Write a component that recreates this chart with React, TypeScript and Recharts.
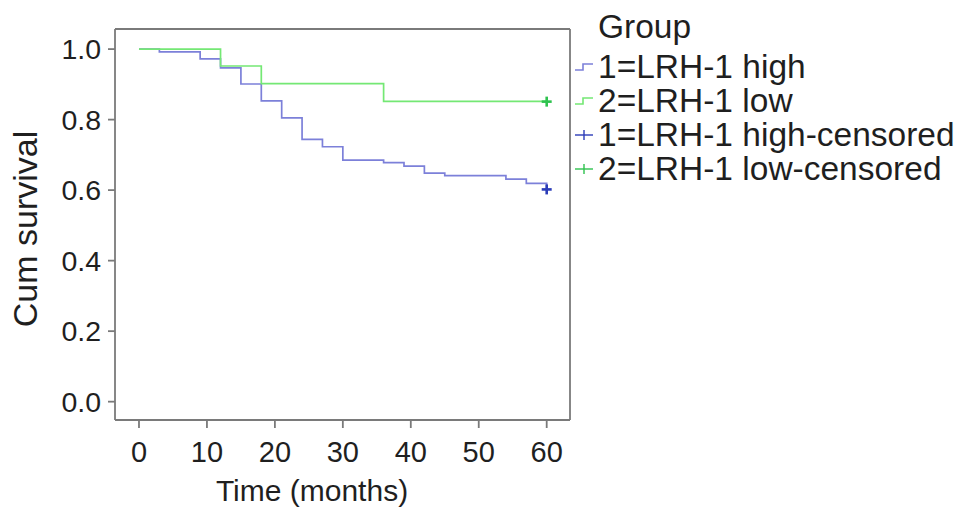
import React from 'react';
import {
  ComposedChart,
  Line,
  Scatter,
  XAxis,
  YAxis,
  Label,
  Legend,
} from 'recharts';

// Kaplan-Meier steps (time in months, cumulative survival)
const highTimes = [0, 3, 9, 12, 15, 18, 21, 24, 27, 30, 36, 39, 42, 45, 54, 57, 60];
const highSurv = [1.0, 0.992, 0.972, 0.947, 0.901, 0.853, 0.805, 0.744, 0.723, 0.685, 0.678, 0.668, 0.648, 0.641, 0.631, 0.619, 0.602];

const lowTimes = [0, 12, 18, 36, 60];
const lowSurv = [1.0, 0.952, 0.902, 0.852, 0.852];

const highCensoredTimes = [60];
const highCensoredSurv = [0.602];
const lowCensoredTimes = [60];
const lowCensoredSurv = [0.851];

const xTicks = [0, 10, 20, 30, 40, 50, 60];
const yTicks = [0, 0.2, 0.4, 0.6, 0.8, 1.0];

const LEGEND_TITLE = 'Group';
const LEGEND_ORDER = [
  '1=LRH-1 high',
  '2=LRH-1 low',
  '1=LRH-1 high-censored',
  '2=LRH-1 low-censored',
];

const COLORS = {
  high: '#7c80d9',
  low: '#74e874',
  highCens: '#2b3cb8',
  lowCens: '#2ec24e',
};

const FONT = '"Liberation Sans", Arial, Helvetica, sans-serif';
const TEXT = '#1f1f1f';
const FRAME = '#7a7a7a';

const toRows = (ts: number[], ss: number[]) => ts.map((t, i) => ({ t, s: ss[i] }));

const highRows = toRows(highTimes, highSurv);
const lowRows = toRows(lowTimes, lowSurv);
const highCensRows = toRows(highCensoredTimes, highCensoredSurv);
const lowCensRows = toRows(lowCensoredTimes, lowCensoredSurv);

function PlusMark(props: any) {
  const { cx, cy, fill } = props;
  if (cx == null || cy == null) return null;
  return (
    <g stroke={fill} strokeWidth={2.6}>
      <line x1={cx - 5} x2={cx + 5} y1={cy} y2={cy} />
      <line x1={cx} x2={cx} y1={cy - 5} y2={cy + 5} />
    </g>
  );
}

function LegendIcon({ censored, color }: { censored: boolean; color: string }) {
  return (
    <svg width={24} height={14} style={{ display: 'block' }}>
      {censored ? (
        <g stroke={color} strokeWidth={1.4}>
          <line x1={3} x2={21} y1={7} y2={7} />
          <line x1={12} x2={12} y1={2} y2={12} />
        </g>
      ) : (
        <path d="M3,10 H11 V4 H21" fill="none" stroke={color} strokeWidth={1.6} />
      )}
    </svg>
  );
}

function renderLegend(props: any) {
  const payload: any[] = props.payload ?? [];
  const items = LEGEND_ORDER.map((name) => payload.find((p) => p.value === name)).filter(Boolean);
  return (
    <div style={{ fontFamily: FONT, color: TEXT, fontSize: 33.5, lineHeight: '34px' }}>
      <div style={{ paddingLeft: 26, marginTop: 10, marginBottom: 6 }}>{LEGEND_TITLE}</div>
      {items.map((p: any) => (
        <div key={p.value} style={{ display: 'flex', alignItems: 'center' }}>
          <LegendIcon censored={p.value.endsWith('censored')} color={p.color} />
          <span style={{ marginLeft: 2 }}>{p.value}</span>
        </div>
      ))}
    </div>
  );
}

export default function App() {
  return (
    <div style={{ position: 'absolute', left: 0, top: 0, width: 969, height: 525, background: '#fff' }}>
      <ComposedChart
        width={969}
        height={525}
        margin={{ top: 28, right: 398, bottom: 0, left: 0 }}
      >
        <XAxis
          dataKey="t"
          type="number"
          domain={[-3.53, 63.43]}
          allowDataOverflow
          ticks={xTicks}
          height={105}
          stroke={FRAME}
          strokeWidth={1.8}
          tickSize={8}
          tickMargin={13}
          tick={{ fill: TEXT, fontSize: 29, fontFamily: FONT }}
        >
          <Label
            content={() => (
              <text x={312} y={501} textAnchor="middle" fill={TEXT} fontSize={30} fontFamily={FONT}>
                Time (months)
              </text>
            )}
          />
        </XAxis>
        <XAxis
          xAxisId="top"
          orientation="top"
          type="number"
          dataKey="t"
          domain={[-3.53, 63.43]}
          allowDataOverflow
          height={1}
          tick={false}
          tickLine={false}
          stroke={FRAME}
          strokeWidth={1.8}
        />
        <YAxis
          type="number"
          domain={[-0.052, 1.057]}
          allowDataOverflow
          ticks={yTicks}
          width={115}
          stroke={FRAME}
          strokeWidth={1.8}
          tickSize={7}
          tickMargin={7}
          tickFormatter={(v: number) => v.toFixed(1)}
          tick={{ fill: TEXT, fontSize: 28.5, fontFamily: FONT }}
        >
          <Label
            content={() => (
              <text
                x={37}
                y={229}
                transform="rotate(-90 37 229)"
                textAnchor="middle"
                fill={TEXT}
                fontSize={34}
                fontFamily={FONT}
              >
                Cum survival
              </text>
            )}
          />
        </YAxis>
        <YAxis
          yAxisId="right"
          orientation="right"
          type="number"
          domain={[0, 1]}
          width={1}
          tick={false}
          tickLine={false}
          stroke={FRAME}
          strokeWidth={1.8}
        />
        <Legend
          layout="horizontal"
          align="center"
          verticalAlign="middle"
          wrapperStyle={{ left: 572, top: 0, width: 397 }}
          content={renderLegend}
        />
        <Line
          name="1=LRH-1 high"
          data={highRows}
          dataKey="s"
          type="stepAfter"
          stroke={COLORS.high}
          strokeWidth={1.7}
          dot={false}
          activeDot={false}
          isAnimationActive={false}
        />
        <Line
          name="2=LRH-1 low"
          data={lowRows}
          dataKey="s"
          type="stepAfter"
          stroke={COLORS.low}
          strokeWidth={1.7}
          dot={false}
          activeDot={false}
          isAnimationActive={false}
        />
        <Scatter
          name="1=LRH-1 high-censored"
          data={highCensRows}
          dataKey="s"
          fill={COLORS.highCens}
          shape={<PlusMark />}
          isAnimationActive={false}
        />
        <Scatter
          name="2=LRH-1 low-censored"
          data={lowCensRows}
          dataKey="s"
          fill={COLORS.lowCens}
          shape={<PlusMark />}
          isAnimationActive={false}
        />
      </ComposedChart>
    </div>
  );
}
